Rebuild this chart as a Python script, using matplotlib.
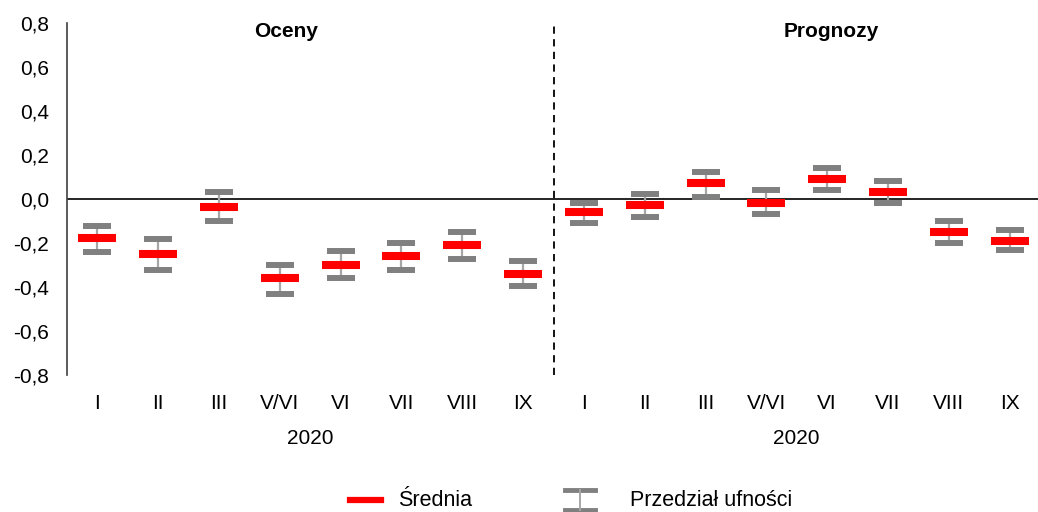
import matplotlib
matplotlib.use("Agg")
import matplotlib.pyplot as plt
from matplotlib.lines import Line2D
from matplotlib.ticker import FuncFormatter
import numpy as np

plt.rcParams['font.family'] = ['Liberation Sans', 'DejaVu Sans']

categories = ["I", "II", "III", "V/VI", "VI", "VII", "VIII", "IX",
              "I", "II", "III", "V/VI", "VI", "VII", "VIII", "IX"]
mean_vals = [-0.176, -0.249, -0.036, -0.358, -0.300, -0.259, -0.208, -0.341,
             -0.060, -0.029, 0.071, -0.017, 0.090, 0.030, -0.150, -0.191]
upper_vals = [-0.123, -0.182, 0.032, -0.300, -0.239, -0.200, -0.150, -0.282,
              -0.017, 0.020, 0.120, 0.040, 0.140, 0.080, -0.100, -0.141]
lower_vals = [-0.241, -0.323, -0.100, -0.432, -0.359, -0.323, -0.273, -0.398,
              -0.110, -0.083, 0.010, -0.070, 0.040, -0.020, -0.200, -0.232]
group_titles = ["Oceny", "Prognozy"]
year_label = "2020"

FS = 15
W, H = 1038, 512
fig = plt.figure(figsize=(W / 100, H / 100), dpi=100)
ax = fig.add_axes([67 / W, 1 - 375 / H, (1040 - 67) / W, (375 - 22.7) / H])

x = np.arange(len(categories))
red = "#ff0000"
gray = "#808080"

ax.vlines(x, lower_vals, upper_vals, color="#a6a6a6", lw=1.6, zorder=2)
ax.plot(x, upper_vals, ls="none", marker="_", ms=19.5, mew=4.3, color=gray, zorder=3)
ax.plot(x, lower_vals, ls="none", marker="_", ms=19.5, mew=4.3, color=gray, zorder=3)
ax.plot(x, mean_vals, ls="none", marker="_", ms=27.5, mew=5.8, color=red, zorder=4)

ax.axhline(0, color="black", lw=1.2, zorder=1)
ax.axvline(7.5, color="black", lw=1.3, ls=(0, (4, 3)), zorder=1)

ax.set_xlim(-0.5, 15.5)
ax.set_ylim(-0.8, 0.8)
ax.set_yticks(np.arange(-0.8, 0.81, 0.2))
ax.yaxis.set_major_formatter(FuncFormatter(lambda v, p: f"{v:.1f}".replace(".", ",").replace("-0,0", "0,0")))
ax.set_xticks(x)
ax.set_xticklabels(categories)
ax.tick_params(axis="both", length=0, labelsize=FS, colors="black")
ax.tick_params(axis="x", pad=14)
ax.tick_params(axis="y", pad=13)
for s in ["top", "right", "bottom"]:
    ax.spines[s].set_visible(False)
ax.spines["left"].set_color("#404040")
ax.spines["left"].set_linewidth(1.2)

ax.text(3.1, 0.758, group_titles[0], ha="center", va="center", fontsize=FS, fontweight="bold")
ax.text(12.07, 0.758, group_titles[1], ha="center", va="center", fontsize=FS, fontweight="bold")

for cx in (3.5, 11.5):
    fig.text((67 + (cx + 0.5) * 60.8) / W, 1 - 439 / H, year_label, ha="center", va="center", fontsize=FS)

# legend
LFS = 15.5
fig.add_artist(Line2D([350 / W, 381 / W], [1 - 500 / H] * 2, color=red, lw=4.5))
fig.text(398 / W, 1 - 500 / H, "Średnia", ha="left", va="center", fontsize=LFS)
cx0, cx1 = 565 / W, 595 / W
fig.add_artist(Line2D([cx0, cx1], [1 - 490 / H] * 2, color=gray, lw=3.5))
fig.add_artist(Line2D([cx0, cx1], [1 - 510 / H] * 2, color=gray, lw=3.5))
fig.add_artist(Line2D([(cx0 + cx1) / 2] * 2, [1 - 490 / H, 1 - 510 / H], color="#a6a6a6", lw=1.4))
fig.text(630 / W, 1 - 500 / H, "Przedział ufności", ha="left", va="center", fontsize=LFS)

fig.savefig("out.png", dpi=100)
